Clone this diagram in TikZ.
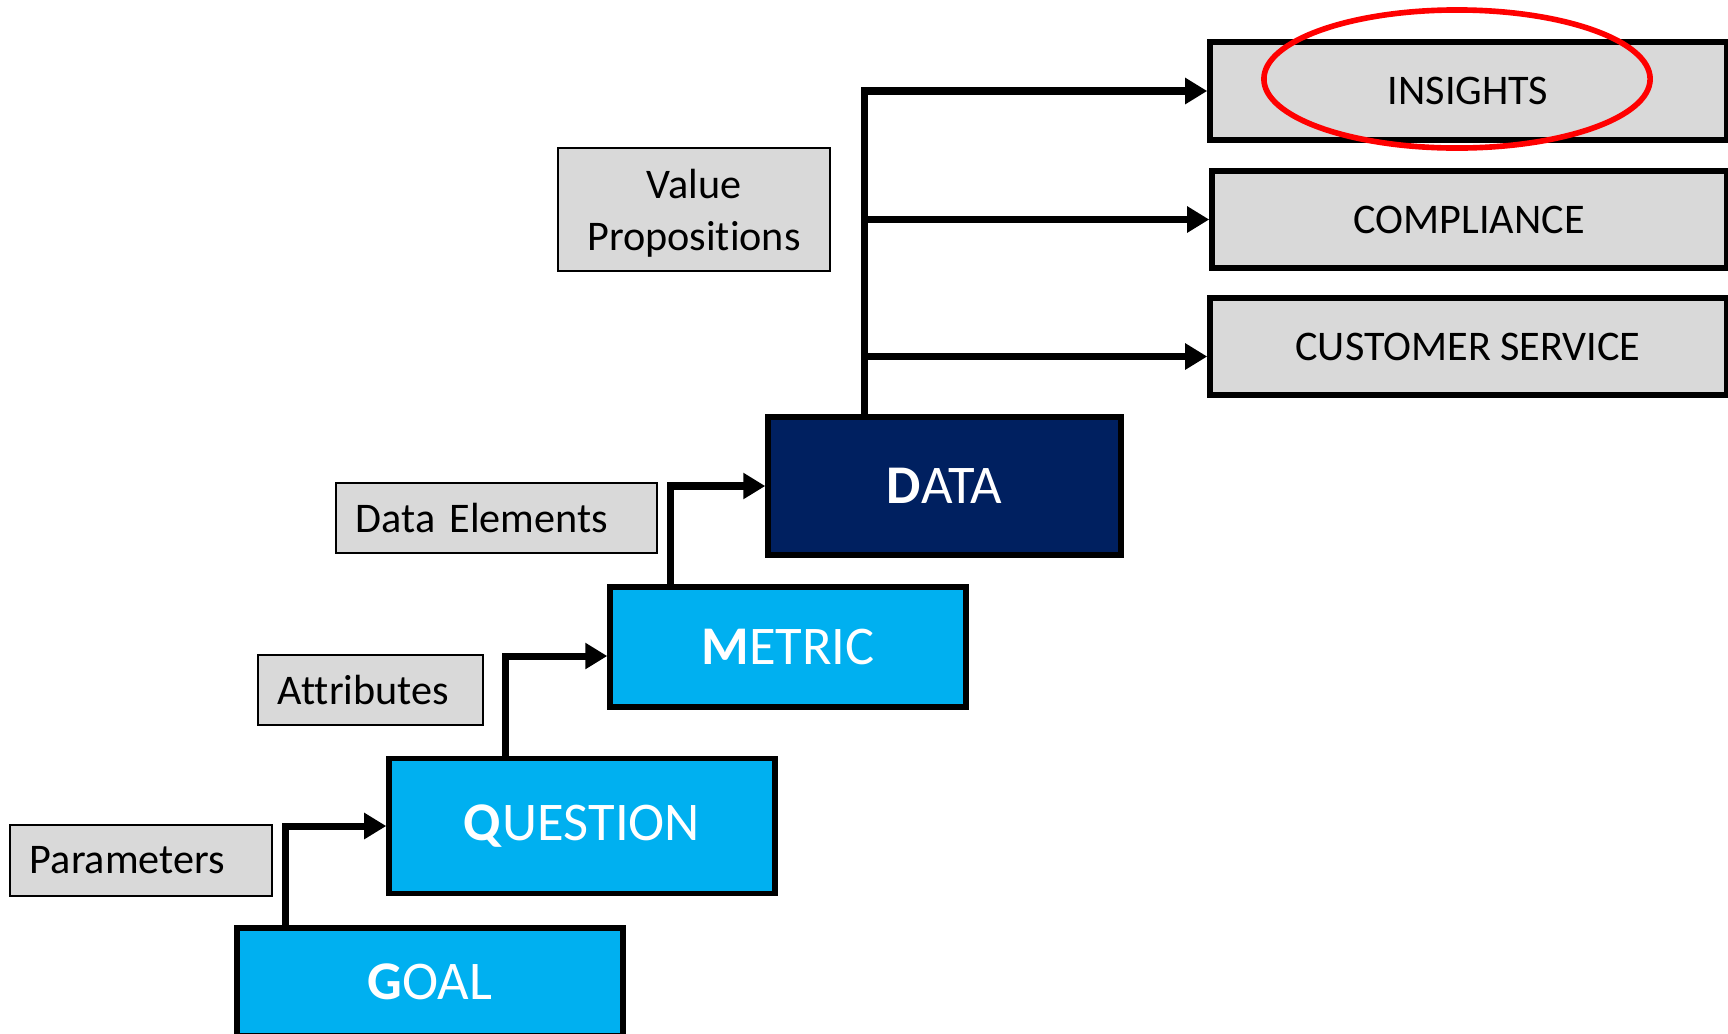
\documentclass[tikz,border=0pt]{standalone}
\usepackage{fontspec}
\setmainfont{Carlito}[Ligatures={NoCommon}]
\usetikzlibrary{arrows.meta}

\definecolor{stepblue}{HTML}{00B0F0}
\definecolor{navy}{HTML}{002060}
\definecolor{boxgray}{HTML}{D9D9D9}

\tikzset{
    level/.style={draw, line width=1.5pt, fill=stepblue, text=white, rectangle,
        inner sep=0pt, font=\fontsize{15.5}{18}\selectfont},
    tag/.style={draw, line width=0.7pt, fill=boxgray, rectangle, inner ysep=0pt,
        inner xsep=0.2cm, align=left, font=\fontsize{12}{14.7}\selectfont},
    outcome/.style={draw, line width=1.5pt, fill=boxgray, rectangle, inner sep=0pt,
        font=\fontsize{12}{14.7}\selectfont},
    link/.style={line width=2pt, -{Triangle[length=0.22cm,width=0.25cm]}},
}

\begin{document}
\begin{tikzpicture}[x=0.01cm,y=-0.01cm]
    \useasboundingbox (0,0) rectangle (1728,1033);

    % the four steps
    \node[level, minimum width=3.86cm, minimum height=1.08cm] (goal) at (430,982) {\textbf{G}OAL};
    \node[level, minimum width=3.86cm, minimum height=1.35cm] (question) at (582,826) {\textbf{Q}UESTION};
    \node[level, minimum width=3.56cm, minimum height=1.20cm] (metric) at (788,647) {\textbf{M}ETRIC};
    \node[level, fill=navy, minimum width=3.53cm, minimum height=1.38cm] (data) at (944.5,486) {\textbf{D}ATA};

    % side labels
    \node[tag, text width=2.22cm, minimum height=0.71cm] (parameters) at (141,860.5) {Parameters};
    \node[tag, text width=1.85cm, minimum height=0.70cm] (attributes) at (370.5,690) {Attributes};
    \node[tag, text width=2.81cm, minimum height=0.70cm] (elements) at (496.5,518) {Data Elements};
    \node[tag, align=center, inner xsep=0pt, minimum width=2.72cm, minimum height=1.23cm] (valueprop) at (694,209.5) {\strut Value\\Propositions};

    % outcomes
    \node[outcome, minimum width=5.16cm, minimum height=0.98cm] (insights) at (1468,91) {INSIGHTS};
    \node[outcome, minimum width=5.14cm, minimum height=0.97cm] (compliance) at (1469,219.5) {COMPLIANCE};
    \node[outcome, minimum width=5.16cm, minimum height=0.97cm] (service) at (1468,346.5) {CUSTOMER SERVICE};

    \draw[link] ([xshift=0.51cm]goal.north west) |- (question.west);
    \draw[link] ([xshift=1.19cm]question.north west) |- ([yshift=-0.09cm]metric.west);
    \draw[link] ([xshift=0.63cm]metric.north west) |- (data.west);

    \coordinate (trunk) at ([xshift=0.99cm]data.north west);
    \draw[link] (trunk) |- (insights.west);
    \draw[link] (trunk) |- (compliance.west);
    \draw[link] (trunk) |- ([yshift=-0.1cm]service.west);

    \draw[red, line width=1.6pt] (1457,79) ellipse [x radius=1.93cm, y radius=0.69cm];
\end{tikzpicture}
\end{document}
